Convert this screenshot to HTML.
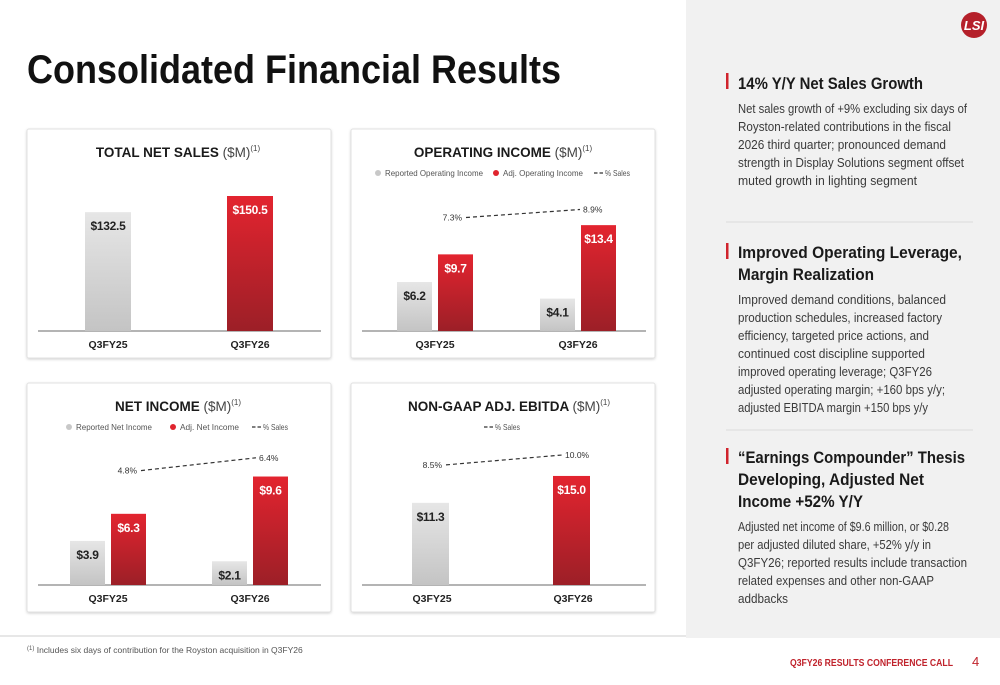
<!DOCTYPE html>
<html><head><meta charset="utf-8"><style>
html,body{margin:0;padding:0;background:#fff}
svg{display:block;font-family:"Liberation Sans",sans-serif}
</style></head><body>
<svg id="s" width="1000" height="685" viewBox="0 0 1000 685" xmlns="http://www.w3.org/2000/svg">
<defs>
<linearGradient id="gR" x1="0" y1="0" x2="0" y2="1"><stop offset="0" stop-color="#e3242f"/><stop offset="1" stop-color="#9c1f27"/></linearGradient>
<linearGradient id="gG" x1="0" y1="0" x2="0" y2="1"><stop offset="0" stop-color="#e6e6e6"/><stop offset="1" stop-color="#c4c4c4"/></linearGradient>
<filter id="sh" x="-5%" y="-5%" width="110%" height="110%"><feDropShadow dx="0" dy="1" stdDeviation="1.2" flood-color="#000" flood-opacity="0.18"/></filter>
</defs>
<rect x="686" y="0" width="314" height="638" fill="#f1f1f1"/>
<line x1="0" y1="636" x2="686" y2="636" stroke="#cfcfcf" stroke-width="1"/>
<text x="27" y="83" font-size="40" font-weight="bold" fill="#111" textLength="534" lengthAdjust="spacingAndGlyphs">Consolidated Financial Results</text>
<g><circle cx="974" cy="25" r="13" fill="#b5202a"/><text x="974" y="30" font-size="13" font-weight="bold" font-style="italic" fill="#fff" text-anchor="middle">LSI</text></g>

<g>
<rect x="726" y="73" width="2.5" height="16" fill="#d0232c"/>
<text x="738" y="89" font-size="17" font-weight="bold" fill="#1a1a1a" textLength="185" lengthAdjust="spacingAndGlyphs">14% Y/Y Net Sales Growth</text>
<g font-size="13" fill="#3a3a3a">
<text x="738" y="113" textLength="229" lengthAdjust="spacingAndGlyphs">Net sales growth of +9% excluding six days of</text>
<text x="738" y="131" textLength="213" lengthAdjust="spacingAndGlyphs">Royston-related contributions in the fiscal</text>
<text x="738" y="149" textLength="208" lengthAdjust="spacingAndGlyphs">2026 third quarter; pronounced demand</text>
<text x="738" y="167" textLength="226" lengthAdjust="spacingAndGlyphs">strength in Display Solutions segment offset</text>
<text x="738" y="185" textLength="179" lengthAdjust="spacingAndGlyphs">muted growth in lighting segment</text>
</g></g>
<line x1="726" y1="222" x2="973" y2="222" stroke="#dcdcdc"/>
<g>
<rect x="726" y="243" width="2.5" height="16" fill="#d0232c"/>
<text x="738" y="258" font-size="17" font-weight="bold" fill="#1a1a1a" textLength="224" lengthAdjust="spacingAndGlyphs">Improved Operating Leverage,</text>
<text x="738" y="280" font-size="17" font-weight="bold" fill="#1a1a1a" textLength="136" lengthAdjust="spacingAndGlyphs">Margin Realization</text>
<g font-size="13" fill="#3a3a3a">
<text x="738" y="304" textLength="208" lengthAdjust="spacingAndGlyphs">Improved demand conditions,  balanced</text>
<text x="738" y="322" textLength="204" lengthAdjust="spacingAndGlyphs">production schedules, increased factory</text>
<text x="738" y="340" textLength="191" lengthAdjust="spacingAndGlyphs">efficiency, targeted price actions, and</text>
<text x="738" y="358" textLength="187" lengthAdjust="spacingAndGlyphs">continued cost discipline supported</text>
<text x="738" y="376" textLength="194" lengthAdjust="spacingAndGlyphs">improved operating leverage; Q3FY26</text>
<text x="738" y="394" textLength="207" lengthAdjust="spacingAndGlyphs">adjusted operating margin; +160 bps y/y;</text>
<text x="738" y="412" textLength="190" lengthAdjust="spacingAndGlyphs">adjusted EBITDA margin +150 bps y/y</text>
</g></g>
<line x1="726" y1="430" x2="973" y2="430" stroke="#dcdcdc"/>
<g>
<rect x="726" y="448" width="2.5" height="16" fill="#d0232c"/>
<text x="738" y="463" font-size="17" font-weight="bold" fill="#1a1a1a" textLength="227" lengthAdjust="spacingAndGlyphs">“Earnings Compounder” Thesis</text>
<text x="738" y="485" font-size="17" font-weight="bold" fill="#1a1a1a" textLength="186" lengthAdjust="spacingAndGlyphs">Developing, Adjusted Net</text>
<text x="738" y="507" font-size="17" font-weight="bold" fill="#1a1a1a" textLength="125" lengthAdjust="spacingAndGlyphs">Income +52% Y/Y</text>
<g font-size="13" fill="#3a3a3a">
<text x="738" y="531" textLength="211" lengthAdjust="spacingAndGlyphs">Adjusted net income of $9.6 million, or $0.28</text>
<text x="738" y="549" textLength="193" lengthAdjust="spacingAndGlyphs">per adjusted diluted share, +52% y/y in</text>
<text x="738" y="567" textLength="229" lengthAdjust="spacingAndGlyphs">Q3FY26;  reported results include transaction</text>
<text x="738" y="585" textLength="196" lengthAdjust="spacingAndGlyphs">related expenses and other non-GAAP</text>
<text x="738" y="603" textLength="50" lengthAdjust="spacingAndGlyphs">addbacks</text>
</g></g>

<text x="27" y="653" font-size="8.5" fill="#555"><tspan font-size="6" dy="-3">(1)</tspan><tspan dy="3"> Includes six days of contribution for the Royston acquisition in Q3FY26</tspan></text>
<text x="790" y="666" font-size="10.5" font-weight="bold" fill="#c0232c" textLength="163" lengthAdjust="spacingAndGlyphs">Q3FY26 RESULTS CONFERENCE CALL</text>
<text x="972" y="666" font-size="13" fill="#c0232c">4</text>
<g id="charts"></g>
</svg>
<script>
// Chart data
const categories = ["Q3FY25", "Q3FY26"];
const salesValues = [132.5, 150.5];
const opReported = [6.2, 4.1];
const opAdjusted = [9.7, 13.4];
const opPct = [7.3, 8.9];
const niReported = [3.9, 2.1];
const niAdjusted = [6.3, 9.6];
const niPct = [4.8, 6.4];
const ebitdaValues = [11.3, 15.0];
const ebitdaPct = [8.5, 10.0];

const NS = "http://www.w3.org/2000/svg";
const root = document.getElementById("charts");
function mk(tag, attrs, parent) {
  const e = document.createElementNS(NS, tag);
  for (const k in attrs) e.setAttribute(k, attrs[k]);
  (parent || root).appendChild(e);
  return e;
}
function txt(parent, x, y, s, attrs) {
  const t = mk("text", Object.assign({x: x, y: y}, attrs || {}), parent);
  t.textContent = s;
  return t;
}

function card(name, x, y, title, tx) {
  const g = mk("g", {});
  
  
  mk("rect", {x: x, y: y, width: 304, height: 229, rx: 2, fill: "#fff", stroke: "#e2e2e2", filter: "url(#sh)"}, g);
  const t = mk("text", {x: tx, y: y + 28, "font-size": 13.5, "font-weight": "bold", fill: "#1a1a1a", "text-anchor": "middle"}, g);
  
  
  const a = mk("tspan", {}, t); a.textContent = title + " ";
  const b = mk("tspan", {"font-weight": "normal", fill: "#444"}, t); b.textContent = "($M)";
  const c = mk("tspan", {"font-weight": "normal", "font-size": 8, dy: -6, fill: "#444"}, t); c.textContent = "(1)";
  return g;
}

function axisLine(g, x1, x2, base) {
  const l = mk("line", {x1: x1, x2: x2, y1: base, y2: base, stroke: "#888", "stroke-width": 1.2}, g);
  
  
}
function catLabel(g, x, base, s) {
  const t = txt(g, x, base + 17, s, {"font-size": 10.5, "font-weight": "bold", fill: "#222", "text-anchor": "middle"});
  
  
}
function bar(g, x, w, base, v, scale, red, label) {
  const h = v * scale;
  const r = mk("rect", {x: x, y: base - h, width: w, height: h, fill: red ? "url(#gR)" : "url(#gG)"}, g);
  
  
  const t = txt(g, x + w / 2, base - h + 18, label, {"font-size": 12, "font-weight": "bold", fill: red ? "#fff" : "#222", "text-anchor": "middle", "letter-spacing": "-0.3"});
  
  
}
function pctLine(g, xa, xb, vals, ybase, pscale, fmt) {
  const ya = ybase - vals[0] * pscale, yb = ybase - vals[1] * pscale;
  const l = mk("line", {x1: xa, y1: ya, x2: xb, y2: yb, stroke: "#333", "stroke-width": 1.2, "stroke-dasharray": "4,3"}, g);
  
  
  const t1 = txt(g, xa - 4, ya + 3, fmt(vals[0]) + "%", {"font-size": 8.5, fill: "#333", "text-anchor": "end"});
  
  
  const t2 = txt(g, xb + 3, yb + 3, fmt(vals[1]) + "%", {"font-size": 8.5, fill: "#333"});
  
  
}
function legend(g, y, items) {
  items.forEach(it => {
    const lg = mk("g", {}, g);
    
    
    if (it.type === "dot") mk("circle", {cx: it.x, cy: y - 3, r: 3, fill: it.color}, lg);
    else mk("line", {x1: it.x - 4, x2: it.x + 5, y1: y - 3, y2: y - 3, stroke: "#333", "stroke-width": 1.3, "stroke-dasharray": "3.5,2"}, lg);
    const t = txt(lg, it.x + 7, y, it.label, {"font-size": 8.5, fill: "#555"});
    if (it.w) { t.setAttribute("textLength", it.w); t.setAttribute("lengthAdjust", "spacingAndGlyphs"); }
  });
}
const f1 = v => v.toFixed(1);

// Card 1: Total net sales
(function () {
  const g = card("total-net-sales-card", 27, 129, "TOTAL NET SALES", 178);
  const base = 331, scale = 0.897, cx = [108, 250];
  axisLine(g, 38, 321, base);
  categories.forEach((c, i) => {
    bar(g, cx[i] - 23, 46, base, salesValues[i], scale, i === 1, "$" + salesValues[i].toFixed(1));
    catLabel(g, cx[i], base, c);
  });
})();

// Card 2: Operating income
(function () {
  const g = card("operating-income-card", 351, 129, "OPERATING INCOME", 503);
  const base = 331, scale = 7.9, cx = [435, 578];
  axisLine(g, 362, 646, base);
  legend(g, 176, [{type: "dot", x: 378, color: "#c8c8c8", label: "Reported Operating Income", w: 98},
    {type: "dot", x: 496, color: "#e0242e", label: "Adj. Operating Income", w: 80},
    {type: "dash", x: 598, label: "% Sales", w: 25}]);
  categories.forEach((c, i) => {
    bar(g, cx[i] - 38, 35, base, opReported[i], scale, false, "$" + f1(opReported[i]));
    bar(g, cx[i] + 3, 35, base, opAdjusted[i], scale, true, "$" + f1(opAdjusted[i]));
    catLabel(g, cx[i], base, c);
  });
  pctLine(g, 466, 580, opPct, 254, 5.0, f1);
})();

// Card 3: Net income
(function () {
  const g = card("net-income-card", 27, 383, "NET INCOME", 178);
  const base = 585, scale = 11.3, cx = [108, 250];
  axisLine(g, 38, 321, base);
  legend(g, 430, [{type: "dot", x: 69, color: "#c8c8c8", label: "Reported Net Income", w: 76},
    {type: "dot", x: 173, color: "#e0242e", label: "Adj. Net Income", w: 59},
    {type: "dash", x: 256, label: "% Sales", w: 25}]);
  categories.forEach((c, i) => {
    bar(g, cx[i] - 38, 35, base, niReported[i], scale, false, "$" + f1(niReported[i]));
    bar(g, cx[i] + 3, 35, base, niAdjusted[i], scale, true, "$" + f1(niAdjusted[i]));
    catLabel(g, cx[i], base, c);
  });
  pctLine(g, 141, 256, niPct, 509, 8.0, f1);
})();

// Card 4: EBITDA
(function () {
  const g = card("adj-ebitda-card", 351, 383, "NON-GAAP ADJ. EBITDA", 509);
  const base = 585, scale = 7.27, cx = [432, 573];
  axisLine(g, 362, 646, base);
  legend(g, 430, [{type: "dash", x: 488, label: "% Sales", w: 25}]);
  categories.forEach((c, i) => {
    bar(g, cx[i] - 20, 37, base, ebitdaValues[i], scale, i === 1, "$" + f1(ebitdaValues[i]));
    catLabel(g, cx[i], base, c);
  });
  pctLine(g, 446, 562, ebitdaPct, 521, 6.6, f1);
})();
</script>
</body></html>
